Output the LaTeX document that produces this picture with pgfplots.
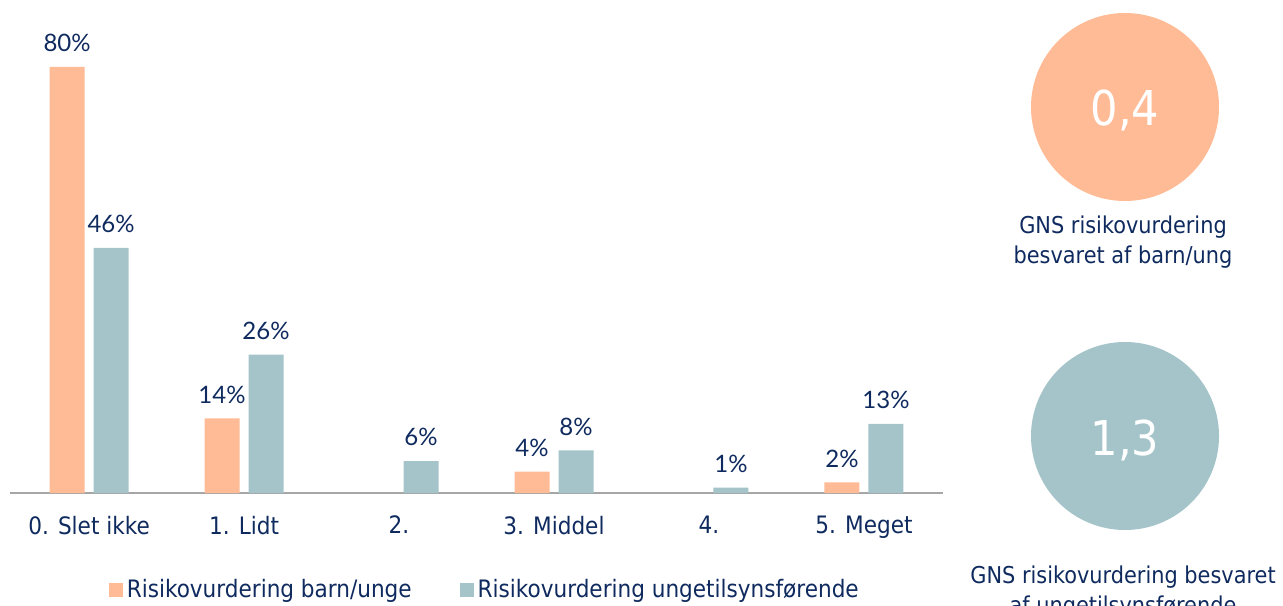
\documentclass[border=0pt]{standalone}
\usepackage{fontspec}
\setmainfont{DejaVu Sans Condensed}
\newfontfamily\labfont{Lato}
\usepackage{pgfplots}
\pgfplotsset{compat=1.18}
\definecolor{peach}{HTML}{FFBB96}
\definecolor{teal}{HTML}{A5C4CA}
\definecolor{navy}{HTML}{0F2A5E}
\definecolor{axisgray}{HTML}{A6A6A6}

\begin{document}
\begin{tikzpicture}
\useasboundingbox (0,0) rectangle (641.5pt,302.5pt);
\begin{axis}[
  at={(5pt,56pt)}, anchor=south west,
  scale only axis, width=466.5pt, height=236.5pt,
  ybar=4.5pt, bar width=17.5pt,
  xmin=-0.51, xmax=5.51, ymin=0, ymax=88.8,
  axis x line*=bottom, axis y line=none,
  x axis line style={draw=axisgray, line width=1.2pt},
  major tick length=0pt,
  xtick={0,1,2,3,4,5},
  xticklabels={0. Slet ikke, 1. Lidt, 2., 3. Middel, 4., 5. Meget},
  xticklabel style={font=\fontsize{12}{14}\selectfont, text=navy, yshift=-8pt},
  /pgf/number format/assume math mode=true,
  nodes near coords={\pgfmathprintnumber{\pgfplotspointmeta}\%},
  every node near coord/.append style={font=\labfont\fontsize{12}{14}\selectfont, text=navy, yshift=4pt},
  clip=false,
  legend columns=2,
  legend style={at={(0.51,-0.205)}, anchor=center, draw=none,
    font=\fontsize{12}{14}\selectfont, text=navy,
    /tikz/every even column/.append style={column sep=22pt}},
  legend image code/.code={\fill[#1] (0pt,-3.5pt) rectangle (7pt,3.5pt);},
]
\addplot[fill=peach, draw=none] coordinates {(0,80) (1,14) (3,4) (5,2)};
\addlegendentry{Risikovurdering barn/unge}
\addplot[fill=teal, draw=none] coordinates {(0,46) (1,26) (2,6) (3,8) (4,1) (5,13)};
\addlegendentry{Risikovurdering ungetilsynsførende}
\end{axis}
\fill[peach] (562.5pt,249pt) circle (47pt);
\fill[teal] (562.5pt,84.5pt) circle (47pt);
\node[text=white, font=\fontsize{24}{28}\selectfont] at (562.5pt,247.5pt) {0,4};
\node[text=white, font=\fontsize{24}{28}\selectfont] at (562.5pt,82.5pt) {1,3};
\node[text=navy, align=center, font=\fontsize{11.6}{15}\selectfont] at (561.5pt,181.5pt) {GNS risikovurdering\\besvaret af barn/ung};
\node[text=navy, align=center, font=\fontsize{11.6}{15}\selectfont] at (561.5pt,6.5pt) {GNS risikovurdering besvaret\\af ungetilsynsførende};
\end{tikzpicture}
\end{document}
